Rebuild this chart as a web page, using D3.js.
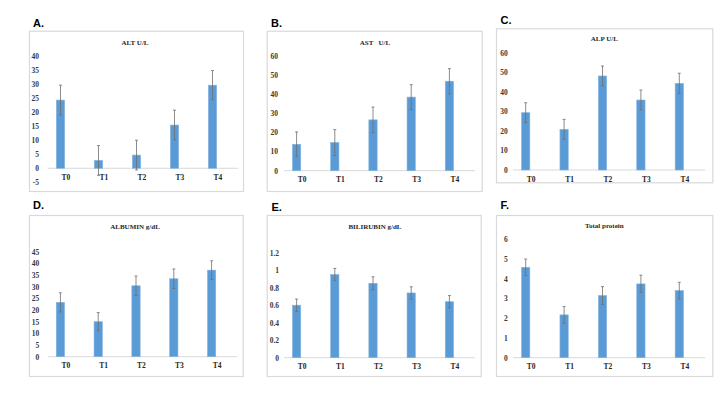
<!DOCTYPE html>
<html>
<head>
<meta charset="utf-8">
<script src="https://cdn.jsdelivr.net/npm/d3@7"></script>
<style>
  body { margin: 0; background: #fff; }
  svg { display: block; }
</style>
</head>
<body>
<svg id="chart" width="720" height="405"></svg>
<script>
// groups on the x axis
var categories = ["T0", "T1", "T2", "T3", "T4"];

// means and error (+/-)
var altMean = [24.3, 2.8, 4.7, 15.4, 29.6];
var altErr  = [5.3, 5.3, 5.3, 5.3, 5.2];
var astMean = [13.8, 14.7, 26.6, 38.5, 46.8];
var astErr  = [6.5, 6.8, 6.7, 6.5, 6.6];
var alpMean = [29.3, 20.8, 48.1, 35.8, 44.3];
var alpErr  = [5.1, 5.1, 5.1, 5.1, 5.2];
var albMean = [23.3, 15.0, 30.4, 33.4, 37.1];
var albErr  = [4.1, 3.9, 4.2, 4.2, 4.0];
var bilMean = [0.60, 0.95, 0.85, 0.74, 0.64];
var bilErr  = [0.07, 0.07, 0.075, 0.07, 0.07];
var tpMean  = [4.58, 2.17, 3.15, 3.74, 3.40];
var tpErr   = [0.42, 0.42, 0.45, 0.44, 0.42];

// tick values for each y axis
var altTicks = [-5, 0, 5, 10, 15, 20, 25, 30, 35, 40];
var astTicks = [0, 10, 20, 30, 40, 50, 60];
var alpTicks = [0, 10, 20, 30, 40, 50, 60];
var albTicks = [0, 5, 10, 15, 20, 25, 30, 35, 40, 45];
var bilTicks = [0, 0.2, 0.4, 0.6, 0.8, 1, 1.2];
var tpTicks  = [0, 1, 2, 3, 4, 5, 6];

var letters = ["A.", "B.", "C.", "D.", "E.", "F."];
var titles = ["ALT U/L", "AST   U/L", "ALP U/L", "ALBUMIN g/dL", "BILIRUBIN g/dL", "Total protein"];

// panel geometry (box, plot area, y pixel range)
var panels = [
  { mean: altMean, err: altErr, ticks: altTicks, box: [29, 30.7, 243, 191],   lx: 33,  ly: 26.5, tx: 135,   ty: 43,    ax: [48, 238],  yr: [182.3, 56],    lab: 39 },
  { mean: astMean, err: astErr, ticks: astTicks, box: [266.7, 30.7, 481.7, 191], lx: 271, ly: 26.5, tx: 375, ty: 43,    ax: [284, 475], yr: [170.7, 56],    lab: 278 },
  { mean: alpMean, err: alpErr, ticks: alpTicks, box: [496, 28.3, 712.3, 182.3], lx: 500.5, ly: 24, tx: 604.3, ty: 39.3, ax: [513, 705], yr: [170, 52.7],    lab: 507.7 },
  { mean: albMean, err: albErr, ticks: albTicks, box: [29, 215, 242.7, 376],  lx: 33,  ly: 209,  tx: 135,   ty: 227.3, ax: [48, 237],  yr: [356.7, 251.7], lab: 39.3 },
  { mean: bilMean, err: bilErr, ticks: bilTicks, box: [266.7, 215, 480.7, 376], lx: 271.5, ly: 210.5, tx: 375, ty: 227.7, ax: [284, 475], yr: [357.7, 252.7], lab: 279 },
  { mean: tpMean,  err: tpErr,  ticks: tpTicks,  box: [496, 215, 712.3, 376], lx: 500.5, ly: 209, tx: 604.3, ty: 226.7, ax: [513, 705], yr: [357.7, 239.3], lab: 507.7 }
];

var svg = d3.select("#chart");
var serif = "'Liberation Serif', 'DejaVu Serif', serif";

panels.forEach(function (p, i) {
  var g = svg.append("g");

  // frame
  g.append("rect")
    .attr("x", p.box[0] + 0.5)
    .attr("y", p.box[1] + 0.5)
    .attr("width", p.box[2] - p.box[0])
    .attr("height", p.box[3] - p.box[1])
    .attr("fill", "#fff")
    .attr("stroke", "#d9d9d9")
    .attr("stroke-width", 1.2);

  // panel letter
  g.append("text")
    .attr("x", p.lx)
    .attr("y", p.ly)
    .attr("font-family", "'Liberation Sans', Arial, sans-serif")
    .attr("font-weight", "bold")
    .attr("font-size", 11)
    .attr("fill", "#000")
    .text(letters[i]);

  // chart title
  g.append("text")
    .attr("x", p.tx)
    .attr("y", p.ty)
    .attr("text-anchor", "middle")
    .attr("dominant-baseline", "middle")
    .attr("font-family", serif)
    .attr("font-weight", "bold")
    .attr("font-size", 7)
    .attr("fill", "#262626")
    .style("white-space", "pre")
    .text(titles[i]);

  var ext = d3.extent(p.ticks);
  var y = d3.scaleLinear().domain(ext).range(p.yr);

  var step = (p.ax[1] - p.ax[0]) / 5;
  var x = d3.scaleBand()
    .domain(categories)
    .range([p.ax[0] - 6.5, p.ax[0] - 6.5 + step * 5]);

  // y tick labels (no axis line, as in the source)
  var yAxis = d3.axisLeft(y)
    .tickValues(p.ticks)
    .tickSize(0)
    .tickPadding(0)
    .tickFormat(function (d) { return String(d); });
  var ya = g.append("g")
    .attr("transform", "translate(" + p.lab + ",0)")
    .call(yAxis);
  ya.select(".domain").remove();
  ya.selectAll("text")
    .attr("font-family", serif)
    .attr("font-weight", "bold")
    .attr("font-size", 7.5)
    .attr("fill", "#3a3a3a");

  // category axis line at zero
  g.append("line")
    .attr("x1", p.ax[0])
    .attr("x2", p.ax[1])
    .attr("y1", y(0))
    .attr("y2", y(0))
    .attr("stroke", "#d9d9d9")
    .attr("stroke-width", 1);

  var rows = categories.map(function (c, k) {
    return { cat: c, v: p.mean[k], e: p.err[k] };
  });

  var bw = 8.3;
  g.selectAll("rect.bar")
    .data(rows)
    .enter().append("rect")
    .attr("class", "bar")
    .attr("x", function (d) { return x(d.cat) + x.bandwidth() / 2 - bw / 2; })
    .attr("y", function (d) { return y(Math.max(0, d.v)); })
    .attr("width", bw)
    .attr("height", function (d) { return Math.abs(y(d.v) - y(0)); })
    .attr("fill", "#5b9bd5")
    .attr("stroke", "#84b4e1")
    .attr("stroke-width", 0.6);

  // error bars
  var eb = g.selectAll("g.err")
    .data(rows)
    .enter().append("g")
    .attr("class", "err")
    .attr("transform", function (d) { return "translate(" + (x(d.cat) + x.bandwidth() / 2) + ",0)"; });
  eb.append("line")
    .attr("y1", function (d) { return y(d.v - d.e); })
    .attr("y2", function (d) { return y(d.v + d.e); })
    .attr("stroke", "#6f6f6f")
    .attr("stroke-width", 0.8);
  eb.append("line")
    .attr("x1", -1.5).attr("x2", 1.5)
    .attr("y1", function (d) { return y(d.v + d.e); })
    .attr("y2", function (d) { return y(d.v + d.e); })
    .attr("stroke", "#6f6f6f")
    .attr("stroke-width", 0.8);
  eb.append("line")
    .attr("x1", -1.5).attr("x2", 1.5)
    .attr("y1", function (d) { return y(d.v - d.e); })
    .attr("y2", function (d) { return y(d.v - d.e); })
    .attr("stroke", "#6f6f6f")
    .attr("stroke-width", 0.8);

  // category labels, sitting a little right of the bars like the source
  g.selectAll("text.cat")
    .data(categories)
    .enter().append("text")
    .attr("class", "cat")
    .attr("x", function (c) { return x(c) + x.bandwidth() / 2 + 5.5; })
    .attr("y", y(0) + 10)
    .attr("text-anchor", "middle")
    .attr("dominant-baseline", "middle")
    .attr("font-family", serif)
    .attr("font-weight", "bold")
    .attr("font-size", 7.5)
    .attr("fill", "#262626")
    .text(function (c) { return c; });
});
</script>
</body>
</html>
